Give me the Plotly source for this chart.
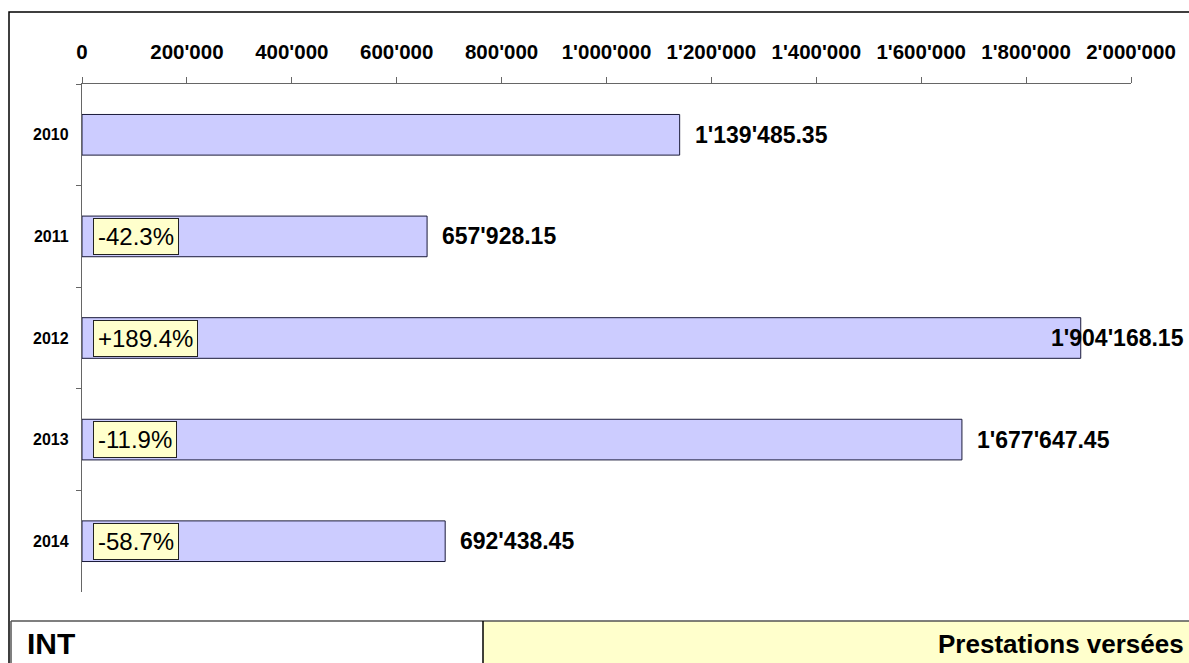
import plotly.graph_objects as go

years = ["2010", "2011", "2012", "2013", "2014"]
values = [1139485.35, 657928.15, 1904168.15, 1677647.45, 692438.45]
pct_labels = ["", "-42.3%", "+189.4%", "-11.9%", "-58.7%"]
tick_vals = [0, 200000, 400000, 600000, 800000, 1000000, 1200000, 1400000, 1600000, 1800000, 2000000]
left_title = "INT"
right_title = "Prestations versées"

def swiss(v, dec=0):
    return f"{v:,.{dec}f}".replace(",", "'")

FONT = "Liberation Sans, Arial, sans-serif"
W, H = 1189, 663
L, R, T, B = 82, 1131, 84, 592
PW, PH = R - L, B - T

def px(x):
    return (x - L) / PW

def py(y):
    return (B - y) / PH

fig = go.Figure()
fig.add_trace(go.Bar(
    y=years, x=values, orientation="h",
    marker=dict(color="#CCCCFF", line=dict(color="#1a1a3a", width=1)),
    width=0.4, hoverinfo="skip",
))

annotations = []
for i, v in enumerate(values):
    txt = swiss(v, 2)
    if v > 1.8e6:
        annotations.append(dict(x=px(1186), xref="paper", y=i, yref="y", text=txt,
                                xanchor="right", showarrow=False,
                                font=dict(family=FONT, size=23, color="black", weight="bold")))
    else:
        annotations.append(dict(x=v, xref="x", y=i, yref="y", text=txt,
                                xanchor="left", xshift=13, showarrow=False,
                                font=dict(family=FONT, size=23, color="black", weight="bold")))
for i, p in enumerate(pct_labels):
    if p:
        annotations.append(dict(x=0, xref="x", y=i, yref="y", text=p,
                                xanchor="left", xshift=11, showarrow=False,
                                bgcolor="#FFFFCC", bordercolor="#222222", borderwidth=1, borderpad=4,
                                font=dict(family=FONT, size=24, color="black")))

annotations.append(dict(x=px(25), xref="paper", y=py(643), yref="paper", text=left_title,
                        xanchor="left", yanchor="middle", showarrow=False,
                        font=dict(family=FONT, size=30, color="black", weight="bold")))
annotations.append(dict(x=px(1186), xref="paper", y=py(644), yref="paper", text=right_title,
                        xanchor="right", yanchor="middle", showarrow=False,
                        font=dict(family=FONT, size=26, color="black", weight="bold")))

shapes = [
    dict(type="rect", xref="paper", yref="paper", x0=px(9), x1=px(1200), y0=py(12), y1=py(680),
         line=dict(color="black", width=1.5), fillcolor="rgba(0,0,0,0)", layer="below"),
    dict(type="rect", xref="paper", yref="paper", x0=px(483), x1=px(1200), y0=py(621), y1=py(680),
         line=dict(width=0), fillcolor="#FFFFCC", layer="below"),
    dict(type="line", xref="paper", yref="paper", x0=px(11), x1=px(1200), y0=py(621), y1=py(621),
         line=dict(color="#555555", width=1.5)),
    dict(type="line", xref="paper", yref="paper", x0=px(11), x1=px(11), y0=py(621), y1=py(680),
         line=dict(color="#555555", width=1.5)),
    dict(type="line", xref="paper", yref="paper", x0=px(483), x1=px(483), y0=py(621), y1=py(680),
         line=dict(color="black", width=1.5)),
]

fig.update_layout(
    width=W, height=H,
    margin=dict(l=L, r=W - R, t=T, b=H - B, pad=0),
    paper_bgcolor="white", plot_bgcolor="white",
    showlegend=False,
    annotations=annotations, shapes=shapes,
    xaxis=dict(
        side="top", range=[0, 2000000], tickvals=tick_vals,
        ticktext=[swiss(t) for t in tick_vals], automargin=False,
        showgrid=False, zeroline=False, showline=True, linecolor="#666666", linewidth=1.3,
        ticks="outside", ticklen=6, tickcolor="#666666", tickwidth=1.3,
        ticklabelstandoff=10,
        tickfont=dict(family=FONT, size=20.5, color="black", weight="bold"),
    ),
    yaxis=dict(
        type="category", categoryorder="array", categoryarray=years,
        range=[len(years) - 0.5, -0.5], autorange=False,
        automargin=False,
        showgrid=False, zeroline=False, showline=True, linecolor="#666666", linewidth=1.3,
        ticks="outside", ticklen=5, tickcolor="#666666", tickwidth=1.3, tickson="boundaries",
        ticklabelstandoff=9,
        tickfont=dict(family=FONT, size=16, color="black", weight="bold"),
    ),
)

fig.write_html("out.html", config={"displayModeBar": False},
               post_script="document.body.style.margin='0px';document.body.style.overflow='hidden';")
